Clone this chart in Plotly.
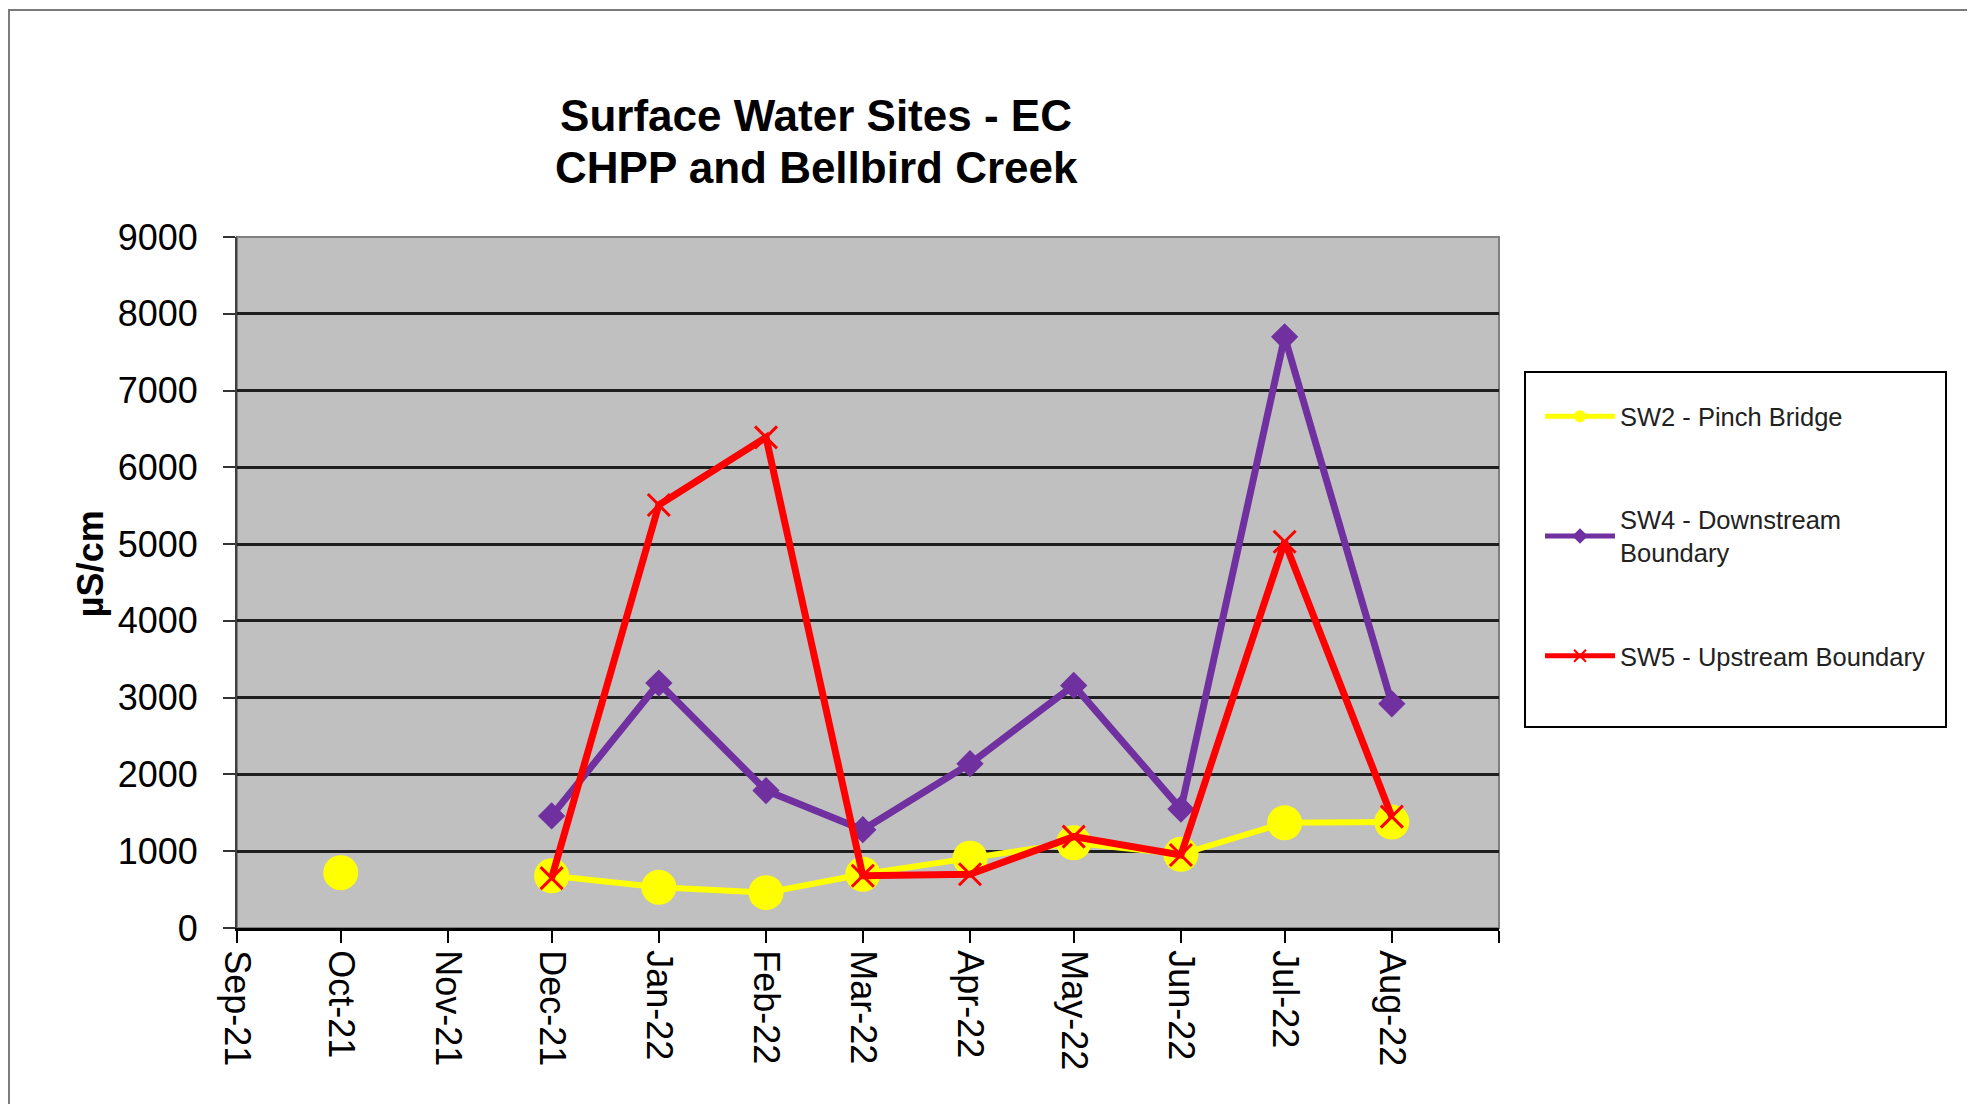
import plotly.graph_objects as go

# monthly sampling dates (first of month) and EC readings in uS/cm
months = [
    "2021-10-01", "2021-11-01", "2021-12-01", "2022-01-01", "2022-02-01", "2022-03-01",
    "2022-04-01", "2022-05-01", "2022-06-01", "2022-07-01", "2022-08-01",
]
sw2_pinch = [720, None, 680, 530, 460, 700, 910, 1110, 960, 1370, 1380]
sw4_downstream = [None, None, 1460, 3190, 1790, 1280, 2140, 3160, 1550, 7700, 2920]
sw5_upstream = [None, None, 650, 5510, 6390, 680, 700, 1190, 950, 5030, 1450]

tick_dates = [
    "2021-09-01", "2021-10-01", "2021-11-01", "2021-12-01", "2022-01-01", "2022-02-01",
    "2022-03-01", "2022-04-01", "2022-05-01", "2022-06-01", "2022-07-01", "2022-08-01",
    "2022-09-01",
]
tick_labels = [
    "Sep-21", "Oct-21", "Nov-21", "Dec-21", "Jan-22", "Feb-22", "Mar-22",
    "Apr-22", "May-22", "Jun-22", "Jul-22", "Aug-22", "",
]

FONT = "Arial, Liberation Sans, sans-serif"

fig = go.Figure()
fig.add_trace(
    go.Scatter(
        x=months, y=sw2_pinch, mode="lines+markers", name="SW2 - Pinch Bridge",
        legendgroup="sw2",
        line={"color": "#FFFF00", "width": 6},
        marker={"symbol": "circle", "size": 35, "color": "#FFFF00"},
    )
)
fig.add_trace(
    go.Scatter(
        x=months, y=sw4_downstream, mode="lines+markers",
        name="SW4 - Downstream<br>Boundary", legendgroup="sw4",
        line={"color": "#7030A0", "width": 7},
        marker={"symbol": "diamond", "size": 21, "color": "#7030A0"},
    )
)
fig.add_trace(
    go.Scatter(
        x=months, y=sw5_upstream, mode="lines+markers",
        name="SW5 - Upstream Boundary", legendgroup="sw5",
        line={"color": "#FF0000", "width": 7},
        marker={"symbol": "x-thin", "size": 22, "color": "#FF0000",
                "line": {"color": "#FF0000", "width": 3}},
    )
)

fig.update_layout(
    width=1967,
    height=1096,
    autosize=False,
    margin={"l": 229, "r": 476, "t": 229, "b": 176},
    paper_bgcolor="white",
    plot_bgcolor="#C0C0C0",
    font={"family": FONT, "color": "#000000"},
    title={
        "text": "<b>Surface Water Sites - EC</b>",
        "font": {"size": 44, "family": FONT, "color": "#000000"},
        "xref": "paper", "x": 0.4588, "xanchor": "center",
        "yref": "container", "y": 0.9015, "yanchor": "middle",
    },
    annotations=[
        {"text": "<b>CHPP and Bellbird Creek</b>", "showarrow": False,
         "xref": "paper", "yref": "paper", "x": 0.4588, "y": 1.0999,
         "xanchor": "center", "yanchor": "middle",
         "font": {"size": 44, "family": FONT, "color": "#000000"}},
        {"text": "<b>µS/cm</b>", "showarrow": False, "textangle": -90,
         "xref": "paper", "yref": "paper", "x": -0.1165, "y": 0.528,
         "xanchor": "center", "yanchor": "middle",
         "font": {"size": 36, "family": FONT, "color": "#000000"}},
    ],
    xaxis={
        "type": "date",
        "range": ["2021-09-01", "2022-09-01"],
        "tickmode": "array",
        "tickvals": tick_dates,
        "ticktext": tick_labels,
        "tickangle": 90,
        "tickfont": {"size": 36, "color": "#000000"},
        "ticks": "outside", "ticklen": 12, "tickwidth": 2, "tickcolor": "#000000",
        "showgrid": False, "zeroline": False,
        "showline": True, "linecolor": "#000000", "linewidth": 3,
        "ticklabelstandoff": 0,
    },
    yaxis={
        "range": [0, 9000],
        "tickmode": "linear", "tick0": 0, "dtick": 1000,
        "tickfont": {"size": 36, "color": "#000000"},
        "ticks": "outside", "ticklen": 12, "tickwidth": 2, "tickcolor": "#333333",
        "showgrid": True, "gridcolor": "#1f1f1f", "gridwidth": 2.5,
        "zeroline": False,
        "showline": True, "linecolor": "#404040", "linewidth": 2,
        "ticklabelstandoff": 18,
    },
    legend={
        "x": 1.0325, "xanchor": "left",
        "y": 0.774, "yanchor": "top",
        "bgcolor": "rgba(0,0,0,0)",
        "borderwidth": 0,
        "font": {"size": 25.5, "color": "#222222", "family": FONT},
        "tracegroupgap": 67,
        "itemsizing": "constant",
        "itemwidth": 70,
        "traceorder": "grouped",
    },
    shapes=[
        # plot-area frame (gray top/right edges)
        {"type": "rect", "xref": "paper", "yref": "paper", "x0": 0, "x1": 1,
         "y0": 0, "y1": 1, "line": {"color": "#808080", "width": 2}, "layer": "below"},
        # legend box
        {"type": "rect", "xref": "paper", "yref": "paper", "x0": 1.0206, "x1": 1.3542,
         "y0": 0.2909, "y1": 0.8046, "line": {"color": "#000000", "width": 2},
         "layer": "below"},
        # outer chart border
        {"type": "rect", "xref": "paper", "yref": "paper", "x0": -0.1807, "x1": 1.3724,
         "y0": -0.3, "y1": 1.3285, "line": {"color": "#7a7a7a", "width": 2}},
    ],
)

fig.write_html("out.html")
